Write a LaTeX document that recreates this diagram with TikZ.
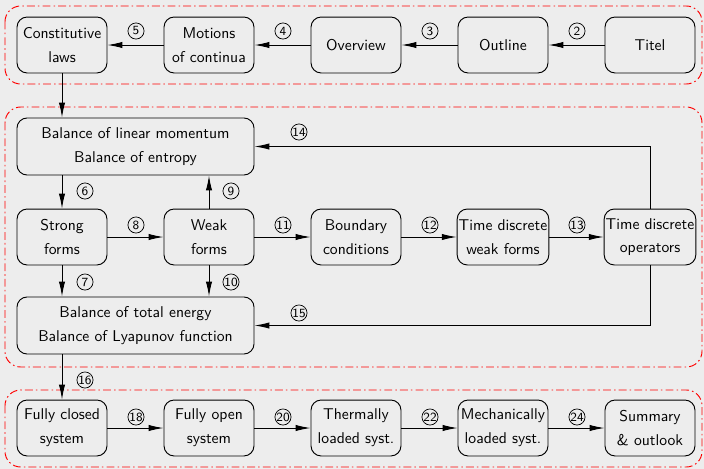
\documentclass[tikz,border=0pt]{standalone}
\usepackage{fontspec}
\usetikzlibrary{arrows.meta,calc}
\definecolor{bggray}{HTML}{EDEDED}
\tikzset{
  box/.style={draw, line width=0.6pt, rounded corners=6.5pt, minimum width=57.6pt, minimum height=35.8pt,
    inner sep=1pt, align=center, font=\linespread{1.27}\selectfont\sffamily},
  widebox/.style={box, minimum width=151.7pt, minimum height=36.5pt},
  num/.style={circle, draw, line width=0.45pt, minimum size=10.3pt, inner sep=0pt, font=\sffamily\footnotesize},
  conn/.style={line width=0.6pt, -{Latex[length=9.5pt,width=4pt]}},
  group/.style={draw=red, line width=0.6pt, rounded corners=10pt, dash pattern=on 5pt off 2pt on 1pt off 2pt}
}
\begin{document}
\begin{tikzpicture}[x=0.64pt,y=-0.64pt]
\fill[bggray] (0,0) rectangle (704,469);
\useasboundingbox (0,0) rectangle (704,469);
% groups
\draw[group] (5,6) rectangle (702,84);
\draw[group] (5,107) rectangle (702,367);
\draw[group] (5,390) rectangle (702,467);
% top row
\node[box] (cl) at (62,45) {Constitutive\\laws};
\node[box] (mc) at (209,45) {Motions\\of continua};
\node[box] (ov) at (356,45) {Overview};
\node[box] (ol) at (503,45) {Outline};
\node[box] (ti) at (650,45) {Titel};
% middle
\node[widebox] (bal) at (135.5,146.5) {Balance of linear momentum\\Balance of entropy};
\node[box] (sf) at (62,237) {Strong\\forms};
\node[box] (wf) at (209,237) {Weak\\forms};
\node[box] (bc) at (356,237) {Boundary\\conditions};
\node[box] (tw) at (503,237) {Time discrete\\weak forms};
\node[box] (to) at (650,237) {Time discrete\\operators};
\node[widebox] (en) at (135.5,325.5) {Balance of total energy\\Balance of Lyapunov function};
% bottom
\node[box] (fc) at (62,428) {Fully closed\\system};
\node[box] (fo) at (209,428) {Fully open\\system};
\node[box] (th) at (356,428) {Thermally\\loaded syst.};
\node[box] (me) at (503,428) {Mechanically\\loaded syst.};
\node[box] (su) at (650,428) {Summary\\\& outlook};
% connectors top
\draw[conn] (ti) -- (ol);
\draw[conn] (ol) -- (ov);
\draw[conn] (ov) -- (mc);
\draw[conn] (mc) -- (cl);
\draw[conn] (cl.south) -- (cl.south |- bal.north);
% middle
\draw[conn] (sf.north |- bal.south) -- (sf.north);
\draw[conn] (wf.north) -- (wf.north |- bal.south);
\draw[conn] (sf) -- (wf);
\draw[conn] (wf) -- (bc);
\draw[conn] (bc) -- (tw);
\draw[conn] (tw) -- (to);
\draw[conn] (to.north) |- (bal.east);
\draw[conn] (to.south) |- (en.east);
\draw[conn] (sf.south) -- (sf.south |- en.north);
\draw[conn] (wf.south) -- (wf.south |- en.north);
\draw[conn] (fc.north |- en.south) -- (fc.north);
% bottom
\draw[conn] (fc) -- (fo);
\draw[conn] (fo) -- (th);
\draw[conn] (th) -- (me);
\draw[conn] (me) -- (su);
% numbers
\node[num] (n2) at (577,31) {2};
\node[num] (n3) at (430,31) {3};
\node[num] (n4) at (283,31) {4};
\node[num] (n5) at (136,31) {5};
\node[num] (n6) at (85,191) {6};
\node[num] (n9) at (231,191) {9};
\node[num] (n8) at (136,225) {8};
\node[num] (n11) at (283,225) {11};
\node[num] (n12) at (430,225) {12};
\node[num] (n13) at (577,225) {13};
\node[num] (n14) at (299,132) {14};
\node[num] (n7) at (85,282) {7};
\node[num] (n10) at (231,282) {10};
\node[num] (n15) at (299,313) {15};
\node[num] (n16) at (85,380) {16};
\node[num] (n18) at (136,417) {18};
\node[num] (n20) at (283,417) {20};
\node[num] (n22) at (430,417) {22};
\node[num] (n24) at (577,417) {24};
\end{tikzpicture}
\end{document}
